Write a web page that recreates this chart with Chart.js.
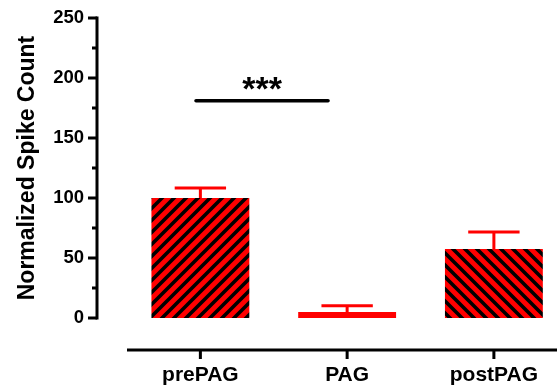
<!DOCTYPE html>
<html>
<head>
<meta charset="utf-8">
<script src="https://cdn.jsdelivr.net/npm/chart.js@4/dist/chart.umd.min.js"></script>
<style>
  html, body { margin: 0; padding: 0; background: #fff; }
</style>
</head>
<body>
<canvas id="chart" width="557" height="389"></canvas>
<script>
const categories = ["prePAG", "PAG", "postPAG"];
const means = [100, 5, 57.5];
const errUpper = [108.3, 10.3, 71.7];
const yTicks = [0, 50, 100, 150, 200, 250];
const hatch = ["/", "none", "\\"];
const sigBars = [{ from: -0.03, to: 0.87, y: 181, label: "***" }];

const FONT = "'Liberation Sans', Arial, sans-serif";
const RED = "#ff0000";

function makeHatch(dir) {
  const s = 12;
  const c = document.createElement("canvas");
  c.width = s; c.height = s;
  const g = c.getContext("2d");
  g.fillStyle = RED;
  g.fillRect(0, 0, s, s);
  g.strokeStyle = "#000";
  g.lineWidth = 3.6;
  g.beginPath();
  if (dir === "/") {
    g.moveTo(-s, s); g.lineTo(s, -s);
    g.moveTo(0, 2 * s); g.lineTo(2 * s, 0);
    g.moveTo(-s, 2 * s); g.lineTo(2 * s, -s);
  } else {
    g.moveTo(-s, 0); g.lineTo(s, 2 * s);
    g.moveTo(0, -s); g.lineTo(2 * s, s);
    g.moveTo(-s, -s); g.lineTo(2 * s, 2 * s);
  }
  g.stroke();
  return g.createPattern(c, "repeat");
}

const fills = hatch.map(h => (h === "none" ? RED : makeHatch(h)));

// offset axes, error bars and the significance bar
const extras = {
  id: "extras",
  afterDatasetsDraw(chart) {
    const { ctx, chartArea } = chart;
    const x = chart.scales.x, y = chart.scales.y;
    ctx.save();

    // error bars
    ctx.strokeStyle = RED;
    ctx.lineWidth = 3;
    ctx.lineCap = "butt";
    errUpper.forEach((e, i) => {
      const cx = x.getPixelForValue(i);
      const top = y.getPixelForValue(e);
      ctx.beginPath();
      ctx.moveTo(cx, y.getPixelForValue(means[i]));
      ctx.lineTo(cx, top);
      ctx.moveTo(x.getPixelForValue(i - 0.175), top);
      ctx.lineTo(x.getPixelForValue(i + 0.175), top);
      ctx.stroke();
    });

    // y axis (offset to the left of the plot)
    const ax = chartArea.left - 30;
    ctx.strokeStyle = "#000";
    ctx.lineWidth = 3;
    ctx.lineCap = "square";
    ctx.beginPath();
    ctx.moveTo(ax, y.getPixelForValue(y.max));
    ctx.lineTo(ax, y.getPixelForValue(0));
    ctx.stroke();
    ctx.lineCap = "butt";
    ctx.beginPath();
    yTicks.forEach((t, i) => {
      const py = y.getPixelForValue(t);
      ctx.moveTo(ax - 9, py); ctx.lineTo(ax, py);
      if (i > 0) {
        const pm = y.getPixelForValue(t - 25);
        ctx.moveTo(ax - 5, pm); ctx.lineTo(ax, pm);
      }
    });
    ctx.stroke();

    // x axis (offset below the plot)
    const ay = chartArea.bottom + 32;
    ctx.beginPath();
    ctx.moveTo(x.getPixelForValue(-0.5), ay);
    ctx.lineTo(chartArea.right, ay);
    categories.forEach((c, i) => {
      const px = x.getPixelForValue(i);
      ctx.moveTo(px, ay); ctx.lineTo(px, ay + 9);
    });
    ctx.stroke();

    // significance
    sigBars.forEach(s => {
      const py = y.getPixelForValue(s.y);
      const x1 = x.getPixelForValue(s.from), x2 = x.getPixelForValue(s.to);
      ctx.lineWidth = 3.5;
      ctx.lineCap = "round";
      ctx.beginPath();
      ctx.moveTo(x1, py); ctx.lineTo(x2, py);
      ctx.stroke();
      ctx.fillStyle = "#000";
      ctx.font = "bold 34px " + FONT;
      ctx.textAlign = "center";
      ctx.textBaseline = "alphabetic";
      ctx.fillText(s.label, (x1 + x2) / 2, py - 1);
    });

    ctx.restore();
  }
};

new Chart(document.getElementById("chart"), {
  type: "bar",
  data: {
    datasets: [{
      data: categories.map((c, i) => ({ x: i, y: means[i] })),
      backgroundColor: fills,
      borderWidth: 0,
      barPercentage: 0.667,
      categoryPercentage: 1
    }]
  },
  options: {
    responsive: false,
    animation: false,
    layout: { padding: { top: 18, right: 0, bottom: 0, left: 0 } },
    plugins: { legend: { display: false }, tooltip: { enabled: false } },
    scales: {
      x: {
        type: "linear",
        min: -0.5,
        max: 2.43,
        offset: false,
        grid: { display: false, drawTicks: false, offset: false },
        border: { display: false },
        afterBuildTicks: s => { s.ticks = categories.map((c, i) => ({ value: i })); },
        afterFit: s => {
          s.height = 71;
          s.paddingLeft = 0; s.paddingRight = 0; s.paddingTop = 0; s.paddingBottom = 0;
        },
        ticks: {
          callback: v => categories[v],
          color: "#000",
          font: { family: FONT, size: 21, weight: "bold" },
          padding: 45,
          maxRotation: 0,
          autoSkip: false
        }
      },
      y: {
        min: 0,
        max: 250,
        grid: { display: false, drawTicks: false },
        border: { display: false },
        afterBuildTicks: s => { s.ticks = yTicks.map(v => ({ value: v })); },
        afterFit: s => {
          s.width = 127;
          s.paddingLeft = 0; s.paddingRight = 0; s.paddingTop = 0; s.paddingBottom = 0;
        },
        ticks: {
          color: "#000",
          font: { family: FONT, size: 18.5, weight: "bold" },
          padding: 43
        },
        title: {
          display: true,
          text: "Normalized Spike Count",
          color: "#000",
          font: { family: FONT, size: 23, weight: "bold" },
          padding: { top: 14, bottom: 0 }
        }
      }
    }
  },
  plugins: [extras]
});
</script>
</body>
</html>
